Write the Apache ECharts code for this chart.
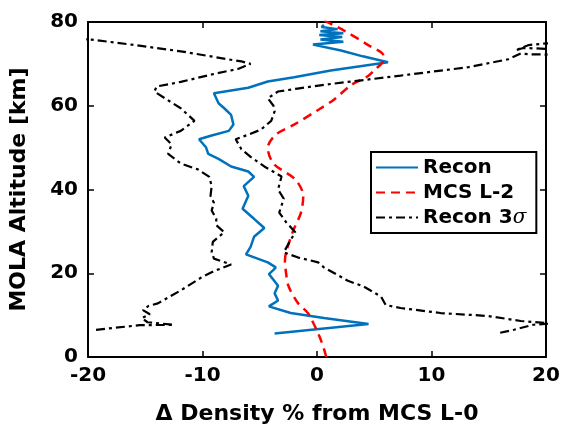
<!DOCTYPE html>
<html>
<head>
<meta charset="utf-8">
<script src="https://cdn.jsdelivr.net/npm/echarts@6/dist/echarts.min.js"></script>
<style>
  html, body { margin: 0; padding: 0; background: #fff; }
  #chart { width: 569px; height: 430px; }
</style>
</head>
<body>
<div id="chart"></div>
<script>
// [delta density %, altitude km]
const recon = [
    [-3.7, 5.6], [4.5, 7.9], [0.6, 9.3], [-2.3, 10.5], [-4.2, 12.1], [-3.4, 13.5],
    [-3.7, 15.2], [-3.4, 17], [-4.2, 19.8], [-3.8, 20.8], [-3.6, 21.4], [-4.3, 22.6],
    [-6.2, 24.5], [-5.8, 26.3], [-5.5, 28.7], [-4.6, 30.8], [-5.5, 33], [-6.5, 35.4],
    [-6, 38.5], [-6.4, 40.8], [-5.5, 43], [-6, 44.3], [-7.5, 45.5], [-8.6, 47.3],
    [-9.5, 48.5], [-9.7, 50.1], [-10.3, 52], [-9.2, 52.9], [-7.7, 54], [-7.3, 55.5],
    [-7.5, 57.8], [-8.1, 59.4], [-8.6, 60.6], [-9, 63], [-6, 64.3], [-4.3, 65.8],
    [-2, 66.8], [1.2, 68.4], [6.2, 70.4], [4, 71.8], [2.1, 73.2], [-0.35, 74.6],
    [2.3, 75.3], [0.3, 75.8], [2.2, 76.4], [0.2, 76.9], [2.3, 77.3], [0.3, 77.8],
    [1.8, 78.3], [0.4, 78.8], [0.6, 79.3],
]
const mcsL2 = [
    [0.8, 0], [0.6, 2], [0.2, 5], [-0.3, 8], [-0.8, 10.5], [-1.7, 13], [-2.5, 17],
    [-2.7, 20], [-2.8, 23], [-2.7, 25], [-2.1, 30], [-1.4, 34.5], [-1.2, 38.5],
    [-1.9, 42.4], [-3.8, 46.2], [-4.3, 50], [-3.6, 53.1], [-2, 55.5], [0.1, 59],
    [1.5, 61.5], [3, 65], [4.4, 67], [5, 68.5], [5.8, 70.9], [5.8, 72], [4.4, 74.6],
    [2.4, 77.9], [0.6, 80.4],
]
const sigmaLow = [
    [-19.3, 6.5], [-15.5, 7.6], [-12.5, 7.7], [-14.8, 8.3], [-15.3, 9.3], [-14.6, 10.2],
    [-15.2, 11.2], [-14.7, 12.2], [-13.9, 12.8], [-11.9, 15.9], [-10.1, 19], [-9, 20.5],
    [-7.5, 22.1], [-9, 23.5], [-9.2, 25], [-9.1, 27.5], [-8.1, 29.8], [-8.8, 31.5],
    [-8.8, 33], [-9.2, 35], [-9, 36.8], [-9.3, 38.5], [-9.2, 40.8], [-9.4, 43],
    [-10.4, 44.8], [-11.9, 46.2], [-13, 48.5], [-12.7, 50.8], [-13.3, 52.4], [-11.9, 54],
    [-10.7, 56.4], [-11.9, 59.4], [-13.3, 61.8], [-14.2, 63.4], [-14, 64.6], [-11.9, 65.7],
    [-9, 67.6], [-6.9, 68.8], [-5.8, 70], [-6.6, 70.6], [-7.8, 71.1], [-11.9, 73],
    [-16.2, 74.6], [-19.7, 75.8], [-21, 76],
]
const sigmaHigh = [
    [16, 5.8], [17.2, 6.5], [18.9, 7.7], [20.5, 8], [17.8, 8.6], [14.9, 9.8], [10.8, 10.5],
    [7.3, 11.7], [6, 12.4], [5.6, 14.4], [4.1, 16.8], [2.7, 18.2], [0.6, 21.4], [0.1, 22.6],
    [-1.7, 23.8], [-2.9, 25], [-2.4, 27.5], [-1.9, 29.8], [-2.7, 32.2], [-3.3, 34.5],
    [-2.9, 37.8], [-3.4, 40], [-3.1, 43.1], [-4.6, 45.5], [-5.8, 47.8], [-6.6, 49.6],
    [-7.1, 52], [-6, 53.1], [-4.9, 54.3], [-4, 56.4], [-3.7, 58.7], [-3.8, 60],
    [-4.3, 61.8], [-3.4, 63.4], [-1.7, 64.1], [0.6, 65], [1.5, 65.3], [7.3, 67.2],
    [13.2, 69.2], [16.7, 71.1], [17.8, 72.5], [18.5, 72.3], [20.5, 72.2], [21, 73.5],
    [18, 73.8], [17.3, 73.2], [18.5, 74.5], [20.5, 75], [21, 75.5],
]
const xTicks = [-20, -10, 0, 10, 20]
const yTicks = [0, 20, 40, 60, 80]

const font = 'DejaVu Sans'
const boxLine = { show: true, onZero: false, lineStyle: { color: '#000', width: 2 } }
const tick = { show: true, inside: true, length: 6, lineStyle: { color: '#000', width: 1.5 } }

const chart = echarts.init(document.getElementById('chart'))
chart.setOption({
    animation: false,
    backgroundColor: '#fff',
    grid: { left: 87, right: 23, top: 22, bottom: 65 },
    legend: {
        data: ['Recon', 'MCS L-2', 'Recon 3σ'],
        orient: 'vertical',
        left: 371,
        top: 152,
        padding: [5, 10, 5, 4],
        itemGap: 4,
        itemWidth: 42,
        itemHeight: 14,
        borderColor: '#000',
        borderWidth: 2,
        backgroundColor: '#fff',
        itemStyle: { opacity: 0 },
        formatter: name => (name === 'Recon 3σ' ? 'Recon 3{s|σ}' : name),
        textStyle: {
            fontFamily: font, fontWeight: 'bold', fontSize: 20, color: '#000', lineHeight: 21,
            rich: { s: { fontFamily: 'DejaVu Serif', fontStyle: 'italic', fontWeight: 'normal', fontSize: 20, color: '#000' } },
        },
    },
    xAxis: [
        {
            type: 'value',
            min: xTicks[0],
            max: xTicks[xTicks.length - 1],
            interval: 10,
            name: 'Δ Density % from MCS L-0',
            nameLocation: 'middle',
            nameGap: 46,
            nameTextStyle: { fontFamily: font, fontWeight: 'bold', fontSize: 22, color: '#000' },
            axisLine: boxLine,
            axisTick: tick,
            splitLine: { show: false },
            axisLabel: { fontFamily: font, fontWeight: 'bold', fontSize: 20, color: '#000', margin: 9 },
        },
        {
            type: 'value', position: 'top', min: -20, max: 20, interval: 10,
            axisLine: boxLine, axisTick: tick, axisLabel: { show: false }, splitLine: { show: false },
        },
    ],
    yAxis: [
        {
            type: 'value',
            min: yTicks[0],
            max: yTicks[yTicks.length - 1],
            interval: 20,
            name: 'MOLA Altitude [km]',
            nameLocation: 'middle',
            nameGap: 58,
            nameTextStyle: { fontFamily: font, fontWeight: 'bold', fontSize: 22, color: '#000' },
            axisLine: boxLine,
            axisTick: tick,
            splitLine: { show: false },
            axisLabel: { fontFamily: font, fontWeight: 'bold', fontSize: 20, color: '#000', margin: 10 },
        },
        {
            type: 'value', position: 'right', min: 0, max: 80, interval: 20,
            axisLine: boxLine, axisTick: tick, axisLabel: { show: false }, splitLine: { show: false },
        },
    ],
    series: [
        {
            name: 'Recon', type: 'line', data: recon, symbol: 'none',
            lineStyle: { color: '#0072BD', width: 2.5 }, itemStyle: { color: '#0072BD' },
        },
        {
            name: 'MCS L-2', type: 'line', data: mcsL2, symbol: 'none', smooth: 0.3,
            lineStyle: { color: '#FF0000', width: 2.5, type: [9, 6] }, itemStyle: { color: '#FF0000' },
        },
        {
            name: 'Recon 3σ', type: 'line', data: sigmaLow, symbol: 'none',
            lineStyle: { color: '#000', width: 2.2, type: [9, 4, 3, 4] }, itemStyle: { color: '#000' },
        },
        {
            name: 'Recon 3σ', type: 'line', data: sigmaHigh, symbol: 'none',
            lineStyle: { color: '#000', width: 2.2, type: [9, 4, 3, 4] }, itemStyle: { color: '#000' },
        },
    ],
})
</script>
</body>
</html>
